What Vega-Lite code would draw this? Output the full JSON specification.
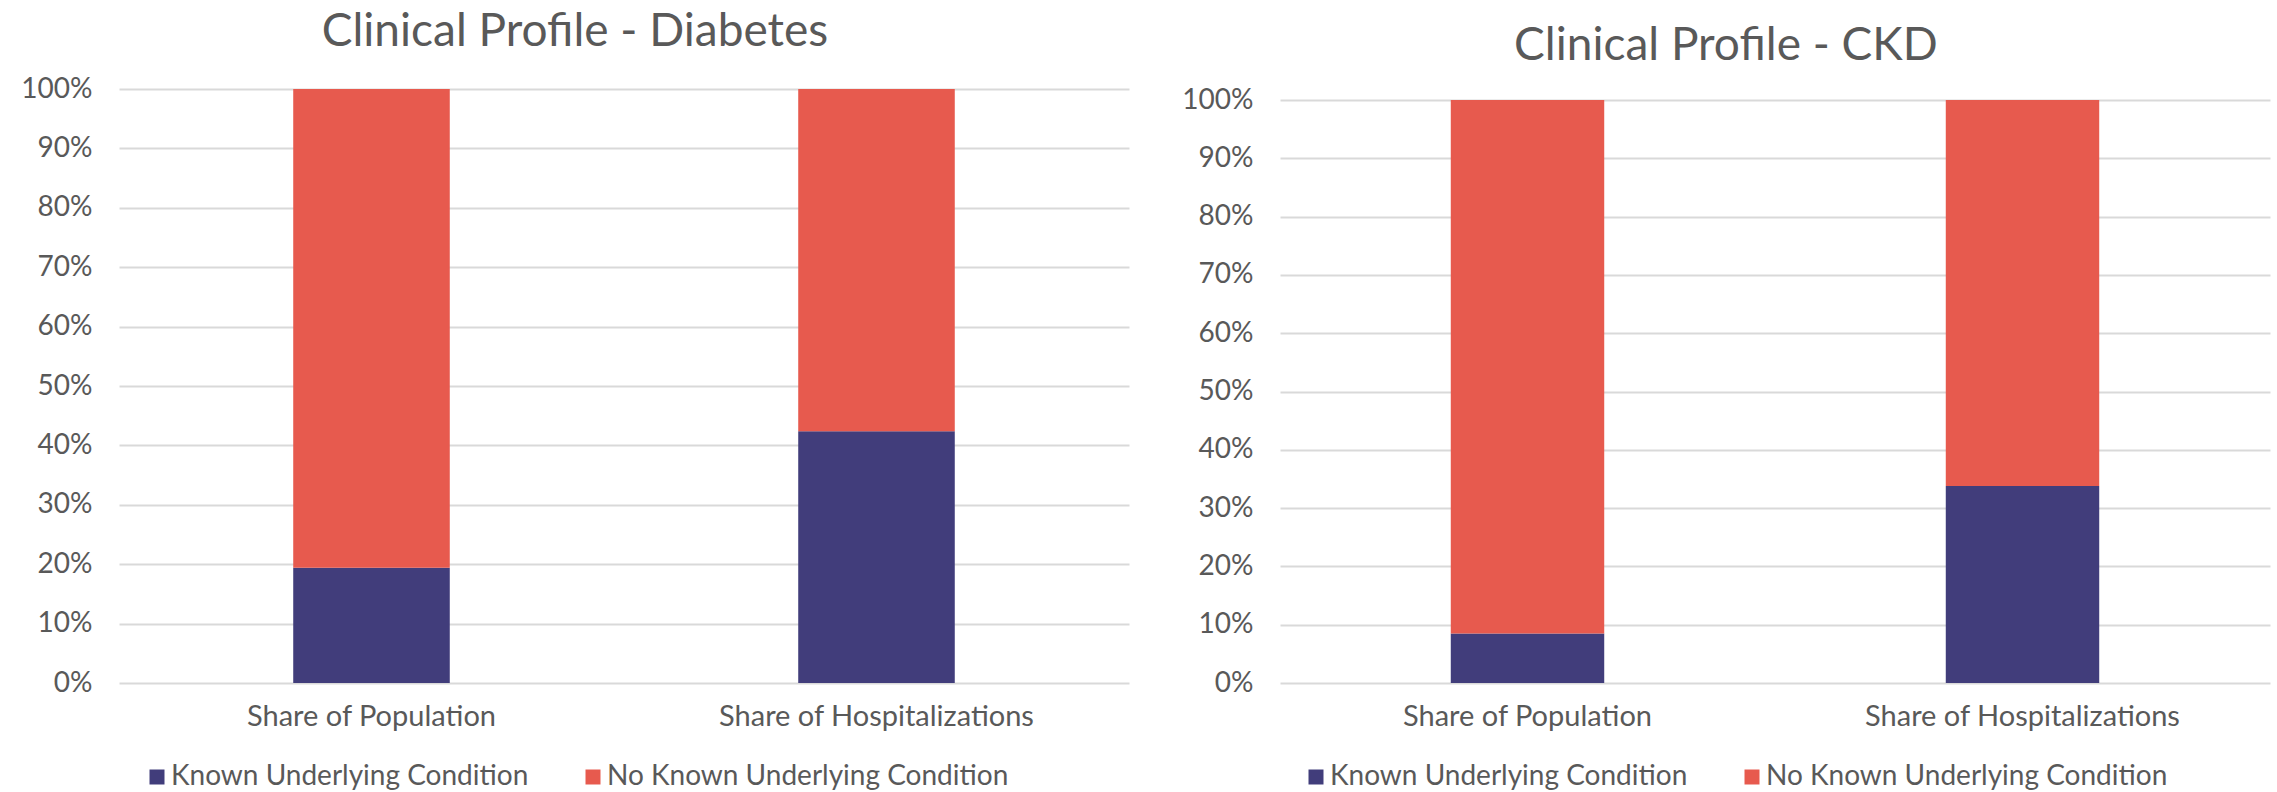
{
  "$schema": "https://vega.github.io/schema/vega-lite/v6.json",
  "background": "white",
  "padding": {"left": 20, "top": 9, "right": 5, "bottom": 0},
  "datasets": {
    "diabetes": [
      {"measure": "Share of Population", "condition": "Known Underlying Condition", "share": 0.194},
      {"measure": "Share of Population", "condition": "No Known Underlying Condition", "share": 0.806},
      {"measure": "Share of Hospitalizations", "condition": "Known Underlying Condition", "share": 0.424},
      {"measure": "Share of Hospitalizations", "condition": "No Known Underlying Condition", "share": 0.576}
    ],
    "ckd": [
      {"measure": "Share of Population", "condition": "Known Underlying Condition", "share": 0.085},
      {"measure": "Share of Population", "condition": "No Known Underlying Condition", "share": 0.915},
      {"measure": "Share of Hospitalizations", "condition": "Known Underlying Condition", "share": 0.338},
      {"measure": "Share of Hospitalizations", "condition": "No Known Underlying Condition", "share": 0.662}
    ]
  },
  "bounds": "flush",
  "spacing": 151,
  "hconcat": [
    {
      "title": {"text": "Clinical Profile - Diabetes"},
      "width": 1010,
      "height": 594,
      "data": {"name": "diabetes"},
      "mark": {"type": "bar"},
      "encoding": {
        "x": {
          "field": "measure",
          "type": "nominal",
          "sort": ["Share of Population", "Share of Hospitalizations"],
          "scale": {"paddingInner": 0.69, "paddingOuter": 0.345},
          "axis": {"title": null}
        },
        "y": {
          "field": "share",
          "type": "quantitative",
          "stack": "zero",
          "scale": {"domain": [0, 1]},
          "axis": {
            "title": null,
            "values": [0, 0.1, 0.2, 0.3, 0.4, 0.5, 0.6, 0.7, 0.8, 0.9, 1],
            "format": ".0%"
          }
        },
        "color": {
          "field": "condition",
          "type": "nominal",
          "scale": {
            "domain": ["Known Underlying Condition", "No Known Underlying Condition"],
            "range": ["#413D7B", "#E75A4E"]
          },
          "legend": {"legendX": 24, "legendY": 674}
        },
        "order": {"field": "condition", "sort": "ascending"}
      }
    },
    {
      "title": {"text": "Clinical Profile - CKD", "dy": 3},
      "width": 990,
      "height": 594,
      "data": {"name": "ckd"},
      "mark": {"type": "bar"},
      "encoding": {
        "x": {
          "field": "measure",
          "type": "nominal",
          "sort": ["Share of Population", "Share of Hospitalizations"],
          "scale": {"paddingInner": 0.69, "paddingOuter": 0.345},
          "axis": {"title": null}
        },
        "y": {
          "field": "share",
          "type": "quantitative",
          "stack": "zero",
          "scale": {"domain": [0, 1], "range": [594, 11]},
          "axis": {
            "title": null,
            "values": [0, 0.1, 0.2, 0.3, 0.4, 0.5, 0.6, 0.7, 0.8, 0.9, 1],
            "format": ".0%"
          }
        },
        "color": {
          "field": "condition",
          "type": "nominal",
          "scale": {
            "domain": ["Known Underlying Condition", "No Known Underlying Condition"],
            "range": ["#413D7B", "#E75A4E"]
          },
          "legend": {"legendX": 22, "legendY": 674}
        },
        "order": {"field": "condition", "sort": "ascending"}
      }
    }
  ],
  "resolve": {
    "scale": {"x": "independent", "y": "independent", "color": "independent"},
    "legend": {"color": "independent"}
  },
  "config": {
    "font": "Lato",
    "view": {"stroke": null},
    "title": {
      "font": "Lato",
      "fontSize": 46,
      "fontWeight": "normal",
      "color": "#595959",
      "anchor": "middle",
      "frame": "bounds",
      "offset": 19
    },
    "axisX": {
      "domain": false,
      "ticks": false,
      "grid": false,
      "labelAngle": 0,
      "labelFont": "Lato",
      "labelFontSize": 29,
      "labelColor": "#595959",
      "labelPadding": 19,
      "labelLimit": 600
    },
    "axisY": {
      "domain": false,
      "ticks": false,
      "grid": true,
      "gridColor": "#D9D9D9",
      "gridWidth": 2,
      "labelFont": "Lato",
      "labelFontSize": 28,
      "labelColor": "#595959",
      "labelPadding": 27
    },
    "legend": {
      "orient": "none",
      "direction": "horizontal",
      "title": null,
      "symbolType": "square",
      "symbolSize": 225,
      "symbolStrokeWidth": 0,
      "labelFont": "Lato",
      "labelFontSize": 28,
      "labelColor": "#595959",
      "labelOffset": 0,
      "columnPadding": 50,
      "labelLimit": 600
    },
    "bar": {"stroke": null}
  }
}
